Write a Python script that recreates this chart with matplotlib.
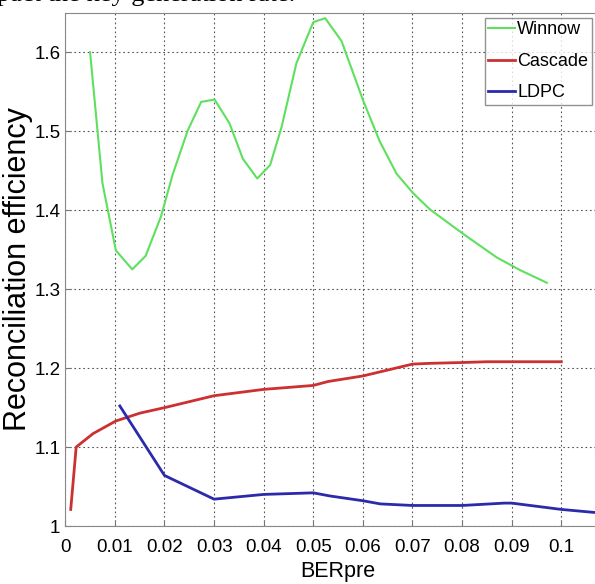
import matplotlib.pyplot as plt
from matplotlib.ticker import FormatStrFormatter, MultipleLocator

plt.rcParams['font.family'] = ['Liberation Sans', 'DejaVu Sans']

# Winnow
winnow_x = [0.0050, 0.0075, 0.0102, 0.0135, 0.0162, 0.0193, 0.0217, 0.0247, 0.0274, 0.0301,
            0.0331, 0.0358, 0.0387, 0.0413, 0.0436, 0.0466, 0.0500, 0.0524, 0.0557, 0.0601,
            0.0634, 0.0668, 0.0702, 0.0735, 0.0802, 0.0870, 0.0917, 0.0971]
winnow_y = [1.600, 1.434, 1.349, 1.325, 1.342, 1.392, 1.446, 1.501, 1.537, 1.540,
            1.510, 1.465, 1.440, 1.457, 1.505, 1.586, 1.638, 1.643, 1.614, 1.538,
            1.487, 1.446, 1.421, 1.401, 1.370, 1.340, 1.324, 1.308]

# Cascade
cascade_x = [0.0011, 0.0022, 0.0056, 0.0102, 0.0151, 0.0201, 0.0300, 0.0400, 0.0500, 0.0530,
             0.0600, 0.0700, 0.0736, 0.0800, 0.0850, 0.0900, 0.1000]
cascade_y = [1.021, 1.100, 1.117, 1.133, 1.143, 1.150, 1.165, 1.173, 1.178, 1.183,
             1.190, 1.205, 1.206, 1.207, 1.208, 1.208, 1.208]

# LDPC
ldpc_x = [0.0110, 0.0200, 0.0300, 0.0400, 0.0500, 0.0534, 0.0600, 0.0635, 0.0700, 0.0800,
          0.0885, 0.0900, 0.1000, 0.1070]
ldpc_y = [1.152, 1.064, 1.034, 1.040, 1.042, 1.038, 1.032, 1.028, 1.026, 1.026,
          1.029, 1.029, 1.021, 1.017]

x_ticks = [0, 0.01, 0.02, 0.03, 0.04, 0.05, 0.06, 0.07, 0.08, 0.09, 0.1]

fig = plt.figure(figsize=(5.95, 5.84), dpi=100)
ax = fig.add_axes([0.1097, 0.0993, 0.917, 0.879])

ax.plot(winnow_x, winnow_y, color='#5ee05e', lw=1.5, label='Winnow')
ax.plot(cascade_x, cascade_y, color='#cc3030', lw=2.0, label='Cascade')
ax.plot(ldpc_x, ldpc_y, color='#2a2aaa', lw=2.0, label='LDPC')

ax.set_xlim(0, 0.11)
ax.set_ylim(1, 1.65)
ax.set_xticks(x_ticks)
ax.yaxis.set_major_locator(MultipleLocator(0.1))
ax.xaxis.set_major_formatter(FormatStrFormatter('%g'))
ax.yaxis.set_major_formatter(FormatStrFormatter('%g'))
ax.grid(True, linestyle=(0, (1.5, 2.5)), color='#555555', lw=0.8)
ax.tick_params(direction='in', labelsize=13.5, length=4, color='#777777')
ax.tick_params(axis='x', pad=9)
for s in ax.spines.values():
    s.set_color('#888888')

ax.set_xlabel('BERpre', fontsize=15.5, labelpad=4)
ax.set_ylabel('Reconciliation efficiency', fontsize=22, labelpad=1)

leg = ax.legend(loc='upper right', bbox_to_anchor=(0.965, 0.99), borderaxespad=0,
                fontsize=13, fancybox=False, handlelength=1.5, handletextpad=0.1,
                labelspacing=0.8, borderpad=0.2)
leg.get_frame().set_edgecolor('#777777')
leg.get_frame().set_linewidth(1.0)

# cut-off caption line above the figure
fig.text(-0.005, 0.999, 'pact the key generation rate.', family='Liberation Serif',
         fontsize=19, va='baseline', ha='left')

fig.savefig('out.png', dpi=100)
